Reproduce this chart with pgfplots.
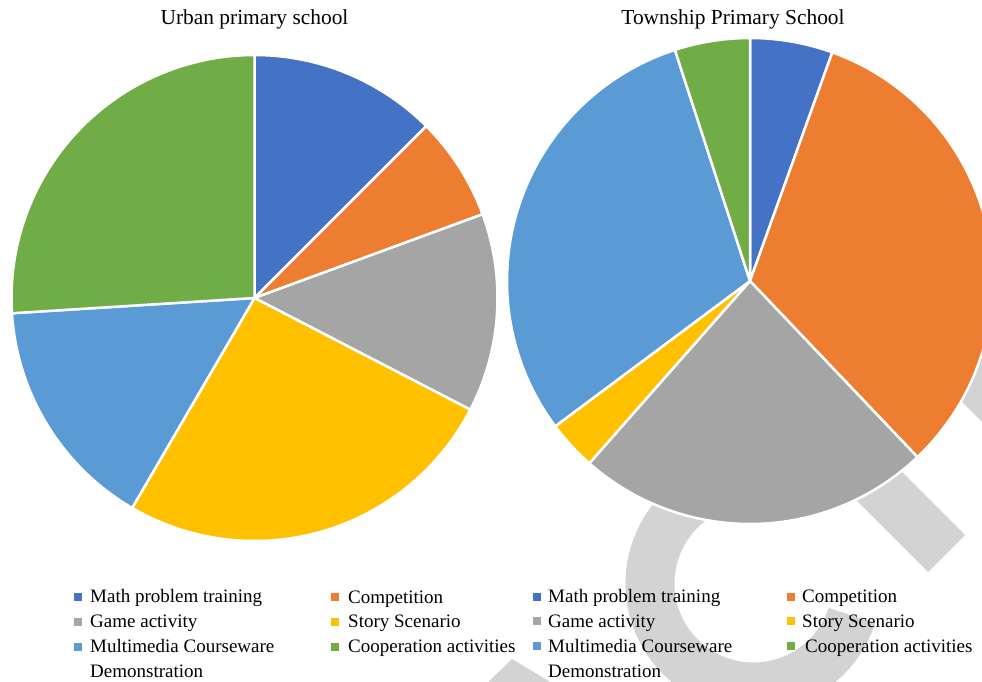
\documentclass[border=0pt]{standalone}
\usepackage{pgfplots}
\pgfplotsset{compat=1.18}
\usepackage{fontspec}
\setmainfont{Liberation Serif}
\definecolor{cBlue}{HTML}{4472C4}
\definecolor{cOrange}{HTML}{ED7D31}
\definecolor{cGray}{HTML}{A5A5A5}
\definecolor{cYellow}{HTML}{FFC000}
\definecolor{cLBlue}{HTML}{5B9BD5}
\definecolor{cGreen}{HTML}{70AD47}
\definecolor{cMark}{HTML}{D3D3D3}
\newcommand\legfont{\fontsize{19}{22}\selectfont}
\newcommand\titfont{\fontsize{21.4}{25}\selectfont}
% shares in percent, clockwise from 12 o'clock
\def\urbandata{12.5/cBlue, 6.9/cOrange, 13.2/cGray, 25.8/cYellow, 15.6/cLBlue, 26.0/cGreen}
\def\towndata{5.5/cBlue, 32.4/cOrange, 23.6/cGray, 3.3/cYellow, 30.2/cLBlue, 5.0/cGreen}
\newcommand\drawpie[3]{%
  \xdef\angacc{90}%
  \foreach \v/\c in #3 {%
    \pgfmathsetmacro{\angend}{\angacc - 3.6*\v}%
    \fill[\c, draw=white, line width=2.5pt, line join=round]
      (axis cs:#1,#2) -- ++(\angacc:243pt)
      arc[start angle=\angacc, end angle=\angend, radius=243pt] -- cycle;
    \xdef\angacc{\angend}%
  }%
}
\begin{document}
\begin{tikzpicture}
\begin{axis}[x=1pt, y=1pt, xmin=0, xmax=982, ymin=0, ymax=682,
  y dir=reverse, hide axis, clip=true]
\pgfplotsextra{%
  \begin{scope}
  \clip (axis cs:0,0) rectangle (axis cs:982,682);
  % watermark
  \fill[cMark] (axis cs:753.5,583.5) ++(-18:128pt)
     arc[start angle=-18, end angle=-240, radius=128pt]
     -- ++(-60:49pt)
     arc[start angle=-240, end angle=-18, radius=79pt] -- cycle;
  \fill[cMark] (axis cs:878,448) -- (axis cs:965,535) -- (axis cs:928,572) -- (axis cs:833,477) -- cycle;
  \fill[cMark] (axis cs:930,370) -- (axis cs:990,430) -- (axis cs:990,340) -- (axis cs:960,340) -- cycle;
  \fill[cMark] (axis cs:478,692) -- (axis cs:512,659) -- (axis cs:567,692) -- cycle;
  % pies
  \drawpie{254.5}{298}{\urbandata}
  \drawpie{750}{281}{\towndata}
  \end{scope}
}
% titles
\node[anchor=base, font=\titfont, inner sep=0] at (axis cs:254.5,25) {Urban primary school};
\node[anchor=base, font=\titfont, inner sep=0] at (axis cs:733,25) {Township Primary School};
% legend left
\fill[cBlue]   (axis cs:74,593) rectangle (axis cs:82,601);
\fill[cGray]   (axis cs:74,618) rectangle (axis cs:82,626);
\fill[cLBlue]  (axis cs:74,643) rectangle (axis cs:82,651);
\fill[cOrange] (axis cs:331,593) rectangle (axis cs:339,601);
\fill[cYellow] (axis cs:331,618) rectangle (axis cs:339,626);
\fill[cGreen]  (axis cs:331,643) rectangle (axis cs:339,651);
\node[anchor=base west, font=\legfont, inner sep=0] at (axis cs:90,602) {Math problem training};
\node[anchor=base west, font=\legfont, inner sep=0] at (axis cs:90,627) {Game activity};
\node[anchor=base west, font=\legfont, inner sep=0] at (axis cs:90,652) {Multimedia Courseware};
\node[anchor=base west, font=\legfont, inner sep=0] at (axis cs:90,677) {Demonstration};
\node[anchor=base west, font=\legfont, inner sep=0] at (axis cs:348,603) {Competition};
\node[anchor=base west, font=\legfont, inner sep=0] at (axis cs:348,627) {Story Scenario};
\node[anchor=base west, font=\legfont, inner sep=0] at (axis cs:348,652) {Cooperation activities};
% legend right
\fill[cBlue]   (axis cs:533,593) rectangle (axis cs:541,601);
\fill[cGray]   (axis cs:533,617) rectangle (axis cs:541,625);
\fill[cLBlue]  (axis cs:533,642) rectangle (axis cs:541,650);
\fill[cOrange] (axis cs:787,593) rectangle (axis cs:795,601);
\fill[cYellow] (axis cs:787,617) rectangle (axis cs:795,625);
\fill[cGreen]  (axis cs:787,642) rectangle (axis cs:795,650);
\node[anchor=base west, font=\legfont, inner sep=0] at (axis cs:548,602) {Math problem training};
\node[anchor=base west, font=\legfont, inner sep=0] at (axis cs:548,627) {Game activity};
\node[anchor=base west, font=\legfont, inner sep=0] at (axis cs:548,652) {Multimedia Courseware};
\node[anchor=base west, font=\legfont, inner sep=0] at (axis cs:548,677) {Demonstration};
\node[anchor=base west, font=\legfont, inner sep=0] at (axis cs:802,602) {Competition};
\node[anchor=base west, font=\legfont, inner sep=0] at (axis cs:802,627) {Story Scenario};
\node[anchor=base west, font=\legfont, inner sep=0] at (axis cs:805,652) {Cooperation activities};
\end{axis}
\pgfresetboundingbox
\path[use as bounding box] (current axis.south west) rectangle (current axis.north east);
\end{tikzpicture}
\end{document}
